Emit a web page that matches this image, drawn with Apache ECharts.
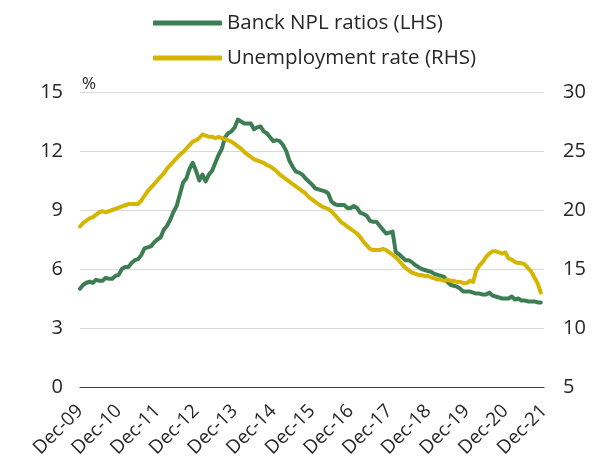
<!DOCTYPE html>
<html>
<head>
<meta charset="utf-8">
<script src="https://cdn.jsdelivr.net/npm/echarts@6/dist/echarts.min.js"></script>
<style>
  html, body { margin: 0; padding: 0; background: #ffffff; }
  #chart { width: 597px; height: 467px; }
</style>
</head>
<body>
<div id="chart"></div>
<script>
// Year labels shown on the x axis (one per December)
const tickLabels = ['Dec-09', 'Dec-10', 'Dec-11', 'Dec-12', 'Dec-13', 'Dec-14', 'Dec-15',
  'Dec-16', 'Dec-17', 'Dec-18', 'Dec-19', 'Dec-20', 'Dec-21'];

// Monthly categories from Dec-09 to Dec-21
const monthNames = ['Jan', 'Feb', 'Mar', 'Apr', 'May', 'Jun', 'Jul', 'Aug', 'Sep', 'Oct', 'Nov', 'Dec'];
const categories = ['Dec-09'];
for (let y = 10; y <= 21; y++) {
  for (let m = 0; m < 12; m++) {
    categories.push(monthNames[m] + '-' + String(y).padStart(2, '0'));
  }
}

// Bank non-performing loan ratio, % (left axis), monthly from Dec-09
const nplRatio = [
  5.0, 5.2, 5.3, 5.35, 5.3, 5.45, 5.4, 5.4, 5.55, 5.5, 5.5, 5.65,
  5.7, 6.0, 6.1, 6.1, 6.3, 6.45, 6.5, 6.7, 7.05, 7.1, 7.15, 7.35,
  7.5, 7.6, 8.0, 8.2, 8.5, 8.9, 9.2, 9.8, 10.4, 10.6, 11.1, 11.4,
  11.0, 10.5, 10.8, 10.45, 10.8, 11.0, 11.4, 11.8, 12.1, 12.7, 12.9, 13.0,
  13.2, 13.6, 13.5, 13.4, 13.4, 13.4, 13.1, 13.2, 13.25, 13.0, 12.9, 12.7,
  12.5, 12.55, 12.5, 12.3, 12.0, 11.5, 11.2, 10.95, 10.9, 10.8, 10.6, 10.45,
  10.3, 10.1, 10.05, 10.0, 9.95, 9.85, 9.45, 9.3, 9.25, 9.25, 9.25, 9.1,
  9.1, 9.2, 9.1, 8.85, 8.8, 8.7, 8.45, 8.4, 8.4, 8.2, 8.0, 7.8,
  7.85, 7.9, 6.85, 6.75, 6.6, 6.45, 6.45, 6.35, 6.2, 6.1, 6.0, 5.95,
  5.9, 5.85, 5.75, 5.7, 5.65, 5.6, 5.35, 5.2, 5.15, 5.1, 5.0, 4.85,
  4.85, 4.85, 4.8, 4.75, 4.75, 4.7, 4.7, 4.8, 4.65, 4.6, 4.55, 4.5,
  4.5, 4.5, 4.6, 4.45, 4.5, 4.4, 4.4, 4.35, 4.35, 4.35, 4.3, 4.3
];

// Unemployment rate, % (right axis), monthly from Dec-09
const unemploymentRate = [
  18.6, 18.9, 19.1, 19.3, 19.4, 19.6, 19.8, 19.9, 19.8, 19.9, 20.0, 20.1,
  20.2, 20.3, 20.4, 20.5, 20.5, 20.5, 20.5, 20.8, 21.2, 21.6, 21.9, 22.2,
  22.5, 22.8, 23.1, 23.5, 23.8, 24.1, 24.4, 24.7, 24.9, 25.2, 25.5, 25.8,
  25.9, 26.1, 26.4, 26.3, 26.2, 26.2, 26.1, 26.2, 26.1, 26.0, 25.9, 25.8,
  25.6, 25.4, 25.2, 24.9, 24.7, 24.5, 24.3, 24.2, 24.1, 24.0, 23.8, 23.7,
  23.5, 23.3, 23.0, 22.8, 22.6, 22.4, 22.2, 22.0, 21.8, 21.6, 21.4, 21.1,
  20.9, 20.7, 20.5, 20.3, 20.2, 20.1, 19.9, 19.6, 19.3, 19.0, 18.8, 18.6,
  18.4, 18.2, 18.0, 17.7, 17.3, 17.0, 16.7, 16.6, 16.6, 16.6, 16.7, 16.6,
  16.4, 16.2, 16.0, 15.7, 15.4, 15.1, 14.9, 14.7, 14.6, 14.5, 14.5, 14.4,
  14.4, 14.3, 14.2, 14.1, 14.1, 14.0, 14.1, 14.0, 14.0, 13.9, 13.9, 13.8,
  13.8, 14.0, 13.9, 14.9, 15.3, 15.6, 16.0, 16.3, 16.5, 16.5, 16.4, 16.3,
  16.4, 15.9, 15.8, 15.6, 15.5, 15.5, 15.4, 15.1, 14.8, 14.3, 13.8, 13.0
];

const leftTicks = { min: 0, max: 15, step: 3 };
const rightTicks = { min: 5, max: 30, step: 5 };

const FONT = 'Open Sans';
const TEXT = '#262626';
const GREEN = '#3d7d53';
const YELLOW = '#d6b500';

const chart = echarts.init(document.getElementById('chart'), null, { renderer: 'canvas' });

chart.setOption({
  animation: false,
  textStyle: { fontFamily: FONT, color: TEXT },
  grid: { left: 80, right: 53, top: 92, bottom: 80 },
  legend: {
    orient: 'vertical',
    left: 153,
    top: 11,
    padding: 0,
    itemWidth: 69,
    itemHeight: 5,
    itemGap: 11,
    icon: 'roundRect',
    textStyle: { fontFamily: FONT, fontSize: 20.5, color: TEXT, lineHeight: 24 },
    data: ['Banck NPL ratios (LHS)', 'Unemployment rate (RHS)']
  },
  xAxis: {
    type: 'category',
    data: categories,
    boundaryGap: false,
    axisLine: { show: true, lineStyle: { color: '#3a3a3a', width: 1 } },
    axisTick: { show: false },
    splitLine: { show: false },
    axisLabel: {
      interval: function (index) { return index % 12 === 0; },
      formatter: function (value) { return tickLabels.indexOf(value) >= 0 ? value : ''; },
      rotate: 45,
      margin: 21,
      fontFamily: FONT,
      fontSize: 19,
      color: TEXT
    }
  },
  yAxis: [
    {
      type: 'value',
      min: leftTicks.min,
      max: leftTicks.max,
      interval: leftTicks.step,
      position: 'left',
      name: '%',
      nameLocation: 'end',
      nameGap: -1,
      nameTextStyle: { fontFamily: FONT, fontSize: 17, color: TEXT, align: 'left', padding: [0, 0, 0, 2] },
      axisLine: { show: false },
      axisTick: { show: false },
      splitLine: { show: true, lineStyle: { color: '#d9d9d9', width: 1 } },
      axisLabel: { fontFamily: FONT, fontSize: 20, color: TEXT, margin: 17 }
    },
    {
      type: 'value',
      min: rightTicks.min,
      max: rightTicks.max,
      interval: rightTicks.step,
      position: 'right',
      axisLine: { show: false },
      axisTick: { show: false },
      splitLine: { show: false },
      axisLabel: { fontFamily: FONT, fontSize: 20, color: TEXT, margin: 19 }
    }
  ],
  series: [
    {
      name: 'Banck NPL ratios (LHS)',
      type: 'line',
      yAxisIndex: 0,
      data: nplRatio,
      showSymbol: false,
      symbol: 'none',
      lineStyle: { color: GREEN, width: 4, join: 'round', cap: 'round' },
      itemStyle: { color: GREEN }
    },
    {
      name: 'Unemployment rate (RHS)',
      type: 'line',
      yAxisIndex: 1,
      data: unemploymentRate,
      showSymbol: false,
      symbol: 'none',
      lineStyle: { color: YELLOW, width: 4, join: 'round', cap: 'round' },
      itemStyle: { color: YELLOW }
    }
  ]
});
</script>
</body>
</html>
